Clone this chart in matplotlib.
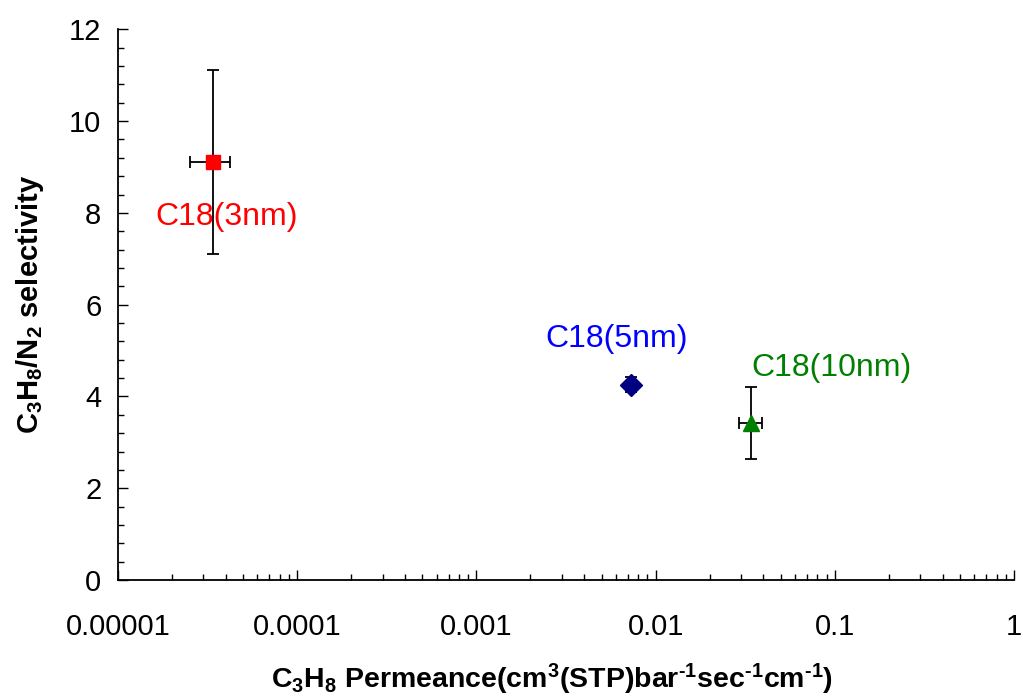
import matplotlib
matplotlib.use("Agg")
import matplotlib.pyplot as plt
from matplotlib.ticker import MultipleLocator, LogLocator, FixedLocator, FixedFormatter, NullFormatter

plt.rcParams['font.family'] = ['Liberation Sans', 'DejaVu Sans']
plt.rcParams['mathtext.fontset'] = 'custom'
plt.rcParams['mathtext.rm'] = 'Liberation Sans'
plt.rcParams['mathtext.bf'] = 'Liberation Sans:bold'
plt.rcParams['mathtext.default'] = 'bf'

# Membrane samples: C3H8 permeance vs C3H8/N2 selectivity
labels = ["C18(3nm)", "C18(5nm)", "C18(10nm)"]
permeance = [3.37e-5, 7.26e-3, 0.0341]
permeance_err = [0.85e-5, 0.0, 0.005]
selectivity = [9.11, 4.26, 3.42]
selectivity_err = [2.0, 0.17, 0.78]
markers = ["s", "D", "^"]
marker_colors = ["#FF0000", "#000080", "#008000"]
text_colors = ["#FF0000", "#0000FF", "#008000"]
label_pos = [(4.04e-5, 7.9), (6.07e-3, 5.26), (0.0962, 4.61)]

xticks = [1e-5, 1e-4, 1e-3, 1e-2, 1e-1, 1]
xtick_labels = ["0.00001", "0.0001", "0.001", "0.01", "0.1", "1"]

fig = plt.figure(figsize=(10.23, 6.98), dpi=100)
ax = fig.add_axes([0.1153, 0.169, 0.8759, 0.789])

for x, xe, y, ye, m, mc in zip(permeance, permeance_err, selectivity, selectivity_err, markers, marker_colors):
    ax.errorbar(x, y, xerr=xe if xe > 0 else None, yerr=ye, fmt='none', ecolor='black',
                elinewidth=1.3, capsize=4.5, capthick=1.3, zorder=2)
    ms = 10 if m == 's' else 11
    ax.plot(x, y, marker=m, color=mc, markersize=ms, linestyle='none', zorder=3)

for lab, (lx, ly), c in zip(labels, label_pos, text_colors):
    ax.text(lx, ly, lab, color=c, fontsize=23, ha='center', va='center')

ax.set_xscale('log')
ax.set_xlim(1e-5, 1)
ax.set_ylim(0, 12)

ax.xaxis.set_major_locator(FixedLocator(xticks))
ax.xaxis.set_major_formatter(FixedFormatter(xtick_labels))
ax.xaxis.set_minor_locator(LogLocator(base=10, subs=range(2, 10), numticks=20))
ax.xaxis.set_minor_formatter(NullFormatter())
ax.yaxis.set_major_locator(MultipleLocator(2))
ax.yaxis.set_minor_locator(MultipleLocator(0.4))

ax.tick_params(axis='both', which='major', direction='in', length=7, width=1.0, labelsize=21)
ax.tick_params(axis='both', which='minor', direction='in', length=4, width=1.0)
ax.tick_params(axis='x', which='major', pad=24)
ax.tick_params(axis='y', which='major', pad=12)

for s in ['top', 'right']:
    ax.spines[s].set_visible(False)
for s in ['left', 'bottom']:
    ax.spines[s].set_linewidth(1.3)

ax.set_xlabel('C$_3$H$_8$ Permeance(cm$^3$(STP)bar$^{\u20101}$sec$^{\u20101}$cm$^{\u20101}$)',
              fontsize=20.5, fontweight='bold')
ax.xaxis.set_label_coords(0.485, -0.149)
ax.set_ylabel(r'C$_3$H$_8$/N$_2$ selectivity', fontsize=21, fontweight='bold')
ax.yaxis.set_label_coords(-0.08, 0.5)

fig.savefig("out.png", dpi=100)
